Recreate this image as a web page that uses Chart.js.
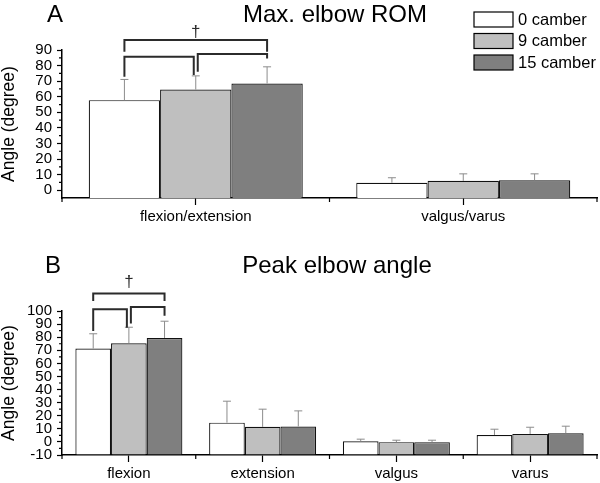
<!DOCTYPE html>
<html>
<head>
<meta charset="utf-8">
<script src="https://cdn.jsdelivr.net/npm/chart.js@4.4.0/dist/chart.umd.min.js"></script>
<style>
  html, body { margin: 0; padding: 0; background: #fff; }
  #wrap { width: 600px; height: 483px; }
  canvas { display: block; }
</style>
</head>
<body>
<div id="wrap">
  <canvas id="chart-rom" width="600" height="230"></canvas>
  <canvas id="chart-peak" width="600" height="253"></canvas>
</div>
<script>
// ---- data ----
const seriesLabels = ['0 camber', '9 camber', '15 camber'];
const seriesColors = ['#ffffff', '#bfbfbf', '#7f7f7f'];

// Panel A: max elbow ROM
const romCategories = ['flexion/extension', 'valgus/varus'];
const romMean0  = [57.8, 4.8];
const romMean9  = [64.6, 6.0];
const romMean15 = [68.5, 6.4];
const romSd0  = [13.3, 3.2];
const romSd9  = [8.8, 4.5];
const romSd15 = [10.7, 4.1];
const romTicks = [0, 10, 20, 30, 40, 50, 60, 70, 80, 90];

// Panel B: peak elbow angle
const peakCategories = ['flexion', 'extension', 'valgus', 'varus'];
const peakMean0  = [71.3, 14.7, 0.5, 5.3];
const peakMean9  = [75.4, 11.5, -0.2, 6.1];
const peakMean15 = [79.4, 11.8, -0.2, 6.6];
const peakSd0  = [11.3, 16.4, 1.6, 4.4];
const peakSd9  = [12.2, 13.5, 1.5, 5.1];
const peakSd15 = [12.8, 11.9, 1.5, 5.4];
const peakTicks = [-10, 0, 10, 20, 30, 40, 50, 60, 70, 80, 90, 100];

// significance brackets (bar index within first group, heights in degrees)
const romBrackets = [
  { a: 0, b: 2, level: 96.4, legs: [88.9, 88.9] },
  { a: 0, b: 1, level: 85.6, legs: [72.8, 73.9] },
  { a: 1, b: 2, level: 87.4, legs: [76.0, 84.6] }
];
const peakBrackets = [
  { a: 0, b: 2, level: 113.3, legs: [107.7, 107.7] },
  { a: 0, b: 1, level: 101.4, legs: [84.8, 87.3] },
  { a: 1, b: 2, level: 103.1, legs: [90.4, 96.3] }
];

const FONT = "'Liberation Sans', Arial, sans-serif";

// titles, legend, error bars, brackets, minor ticks
const decorPlugin = {
    id: 'decor',
    afterDatasetsDraw(chart, args, opts) {
        const ctx = chart.ctx;
        const y = chart.scales.y;
        ctx.save();
        ctx.strokeStyle = '#8c8c8c';
        ctx.lineWidth = 1;
        chart.data.datasets.forEach((ds, di) => {
            const meta = chart.getDatasetMeta(di);
            meta.data.forEach((bar, i) => {
                const top = y.getPixelForValue(ds.data[i] + opts.sd[di][i]);
                ctx.beginPath();
                ctx.moveTo(bar.x, bar.y);
                ctx.lineTo(bar.x, top);
                ctx.moveTo(bar.x - 4, top);
                ctx.lineTo(bar.x + 4, top);
                ctx.stroke();
            });
        });
        ctx.restore();
    },
    afterDraw(chart, args, opts) {
        const ctx = chart.ctx;
        const x = chart.scales.x;
        const y = chart.scales.y;
        const area = chart.chartArea;
        ctx.save();

        // panel letter and title
        ctx.fillStyle = '#000';
        ctx.font = '24px ' + FONT;
        ctx.textBaseline = 'alphabetic';
        ctx.textAlign = 'left';
        ctx.fillText(opts.letter, opts.letterX, opts.titleY);
        ctx.textAlign = 'center';
        ctx.fillText(opts.title, opts.titleX, opts.titleY);

        // y minor ticks
        ctx.strokeStyle = '#000';
        ctx.lineWidth = 1.2;
        const ticks = y.ticks.map(t => t.value);
        ctx.beginPath();
        for (let i = 0; i < ticks.length - 1; i++) {
            const py = y.getPixelForValue((ticks[i] + ticks[i + 1]) / 2);
            ctx.moveTo(area.left, py);
            ctx.lineTo(area.left - 3, py);
        }
        // x boundary ticks
        const n = chart.data.labels.length;
        for (let i = 0; i <= n; i++) {
            const px = area.left + (area.right - area.left) * i / n;
            ctx.moveTo(px, area.bottom);
            ctx.lineTo(px, area.bottom + 4);
        }
        ctx.stroke();

        // brackets over the first group
        const centers = chart.data.datasets.map((d, di) => chart.getDatasetMeta(di).data[0].x);
        ctx.strokeStyle = '#2b2b2b';
        ctx.lineWidth = 2;
        opts.brackets.forEach(br => {
            const xa = centers[br.a] + (br.a > 0 ? 2 : 0);
            const xb = centers[br.b] - (br.b < centers.length - 1 ? 2 : 0);
            const ly = y.getPixelForValue(br.level);
            ctx.beginPath();
            ctx.moveTo(xa, y.getPixelForValue(br.legs[0]));
            ctx.lineTo(xa, ly);
            ctx.lineTo(xb, ly);
            ctx.lineTo(xb, y.getPixelForValue(br.legs[1]));
            ctx.stroke();
        });
        ctx.fillStyle = '#2b2b2b';
        ctx.font = '17px ' + FONT;
        ctx.textAlign = 'center';
        ctx.textBaseline = 'middle';
        ctx.fillText('\u2020', x.getPixelForValue(0), y.getPixelForValue(opts.daggerY));

        // legend
        if (opts.legend) {
            ctx.font = '16.5px ' + FONT;
            ctx.textAlign = 'left';
            ctx.textBaseline = 'middle';
            ctx.lineWidth = 1.2;
            ctx.strokeStyle = '#000';
            chart.data.datasets.forEach((ds, di) => {
                const top = 12 + di * 21.5;
                ctx.fillStyle = ds.backgroundColor;
                ctx.fillRect(474, top, 39, 15);
                ctx.strokeRect(474, top, 39, 15);
                ctx.fillStyle = '#000';
                ctx.fillText(ds.label, 518, top + 8);
            });
        }
        ctx.restore();
    }
};

function buildDatasets(means, base) {
    return means.map((m, i) => ({
        label: seriesLabels[i],
        data: m,
        backgroundColor: seriesColors[i],
        borderColor: '#111',
        borderWidth: 1.2,
        base: base,
        categoryPercentage: 0.8,
        barPercentage: 1.0
    }));
}

function makeChart(id, cfg) {
    return new Chart(document.getElementById(id), {
        type: 'bar',
        data: {
            labels: cfg.labels,
            datasets: buildDatasets(cfg.means, cfg.min)
        },
        plugins: [decorPlugin],
        options: {
            responsive: false,
            animation: false,
            layout: { padding: { top: cfg.padTop, right: 3, left: 0, bottom: 0 } },
            plugins: {
                legend: { display: false },
                tooltip: { enabled: false },
                decor: cfg.decor
            },
            scales: {
                x: {
                    offset: true,
                    afterFit: (s) => { s.height = cfg.xHeight; },
                    grid: { display: true, offset: false, drawOnChartArea: false, tickLength: 7, tickColor: '#000', tickWidth: 1.2 },
                    border: { display: true, color: '#000', width: 1.5 },
                    ticks: { color: '#000', font: { family: FONT, size: 15 }, padding: 3, maxRotation: 0 }
                },
                y: {
                    min: cfg.min,
                    max: cfg.max,
                    afterFit: (s) => { s.width = 62; },
                    afterBuildTicks: (s) => { s.ticks = cfg.ticks.map(v => ({ value: v })); },
                    grid: { display: true, drawOnChartArea: false, tickLength: 5, tickColor: '#000', tickWidth: 1.2 },
                    border: { display: true, color: '#000', width: 1.5 },
                    ticks: { color: '#000', font: { family: FONT, size: 15, lineHeight: 1 }, padding: 5, autoSkip: false },
                    title: {
                        display: true,
                        text: 'Angle (degree)',
                        color: '#000',
                        font: { family: FONT, size: 17.5, lineHeight: 1.05 },
                        padding: 0
                    }
                }
            }
        }
    });
}

makeChart('chart-rom', {
    labels: romCategories,
    means: [romMean0, romMean9, romMean15],
    min: -5, max: 90, ticks: romTicks,
    padTop: 50, xHeight: 32,
    decor: {
        letter: 'A', letterX: 47, title: 'Max. elbow ROM', titleX: 335, titleY: 22,
        sd: [romSd0, romSd9, romSd15],
        brackets: romBrackets, daggerY: 101.5, legend: true
    }
});

makeChart('chart-peak', {
    labels: peakCategories,
    means: [peakMean0, peakMean9, peakMean15],
    min: -10, max: 100, ticks: peakTicks,
    padTop: 81, xHeight: 28,
    decor: {
        letter: 'B', letterX: 45, title: 'Peak elbow angle', titleX: 337, titleY: 43,
        sd: [peakSd0, peakSd9, peakSd15],
        brackets: peakBrackets, daggerY: 122, legend: false
    }
});
</script>
</body>
</html>
